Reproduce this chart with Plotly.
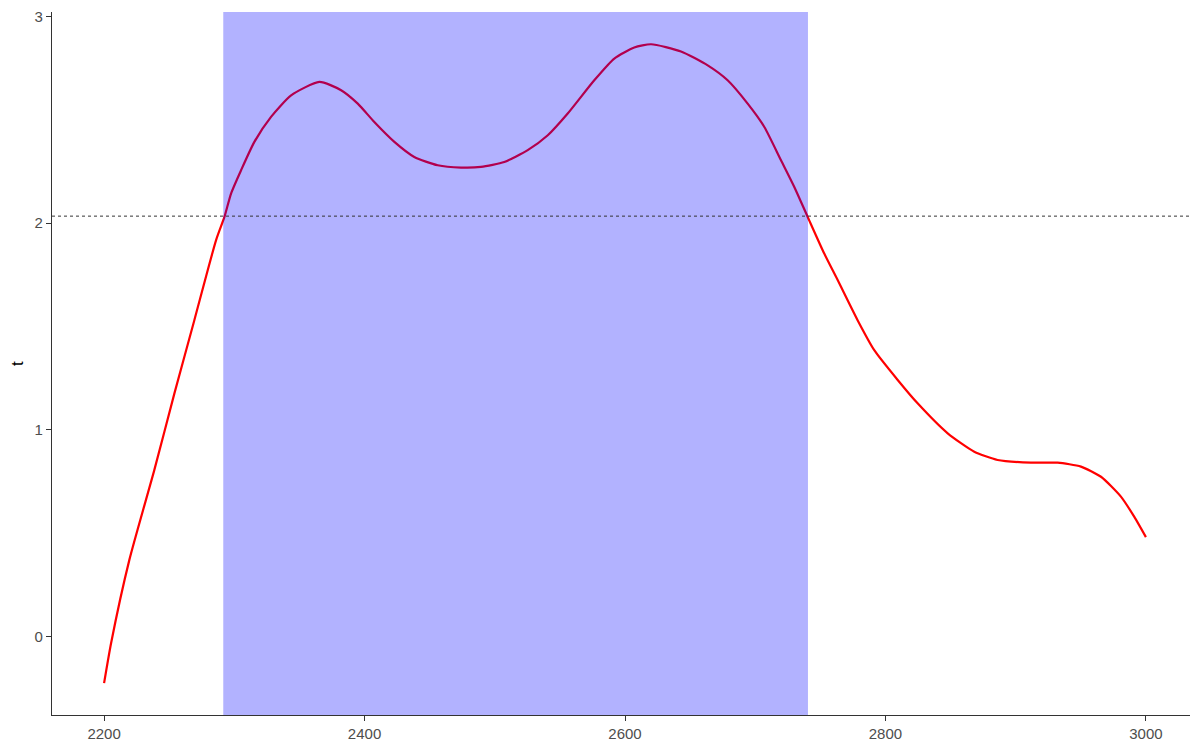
import plotly.graph_objects as go

# Data
x_vals = [2200, 2205.4, 2219.4, 2238.6, 2254.0, 2269.3, 2286.0, 2292.4, 2297.5,
          2305.2, 2315.4, 2328.2, 2343.6, 2365.3, 2382.0, 2394.8, 2407.5, 2422.9, 2438.2,
          2456.2, 2474.1, 2489.4, 2507.3, 2525.3, 2540.7, 2556.0, 2576.4, 2591.8, 2607.1,
          2620.0, 2643.0, 2663.5, 2678.8, 2694.2, 2707.0, 2719.8, 2730.0, 2740.3, 2753.0,
          2763.3, 2778.6, 2791.4, 2809.4, 2824.7, 2847.8, 2868.2, 2886.1, 2911.7, 2932.2,
          2950.1, 2965.5, 2980.8, 2991.0, 3000]
t_vals = [-0.224, -0.03, 0.372, 0.807, 1.177, 1.531, 1.918, 2.03, 2.143,
          2.256, 2.393, 2.514, 2.618, 2.683, 2.643, 2.578, 2.489, 2.393, 2.32,
          2.28, 2.269, 2.272, 2.296, 2.353, 2.425, 2.530, 2.691, 2.796, 2.849,
          2.865, 2.83, 2.763, 2.691, 2.578, 2.465, 2.304, 2.175, 2.03, 1.853,
          1.725, 1.531, 1.386, 1.242, 1.129, 0.984, 0.895, 0.855, 0.842, 0.842,
          0.823, 0.774, 0.678, 0.581, 0.482]
region = [2291.5, 2740.5]
threshold = 2.034
x_ticks = [2200, 2400, 2600, 2800, 3000]
y_ticks = [0, 1, 2, 3]

fig = go.Figure()
fig.add_trace(go.Scatter(x=x_vals, y=t_vals, mode="lines",
                         line=dict(color="#FF0000", width=2.2, shape="spline", smoothing=0.6),
                         showlegend=False, hoverinfo="skip"))

fig.add_shape(type="rect", xref="x", yref="paper", x0=region[0], x1=region[1], y0=0, y1=1,
              fillcolor="rgba(0,0,255,0.3)", line=dict(width=0), layer="above")
fig.add_shape(type="line", xref="paper", yref="y", x0=0, x1=1, y0=threshold, y1=threshold,
              line=dict(color="#333333", width=1, dash="dot"), layer="above")

axis_common = dict(showgrid=False, zeroline=False, showline=True, linecolor="#333333",
                   linewidth=1.1, ticks="outside", ticklen=5, tickwidth=1.1, tickcolor="#333333",
                   automargin=False, ticklabeloverflow="allow",
                   tickfont=dict(family="Liberation Sans, Arial, sans-serif", size=15, color="#4D4D4D"))

fig.update_xaxes(range=[2160, 3040], tickvals=x_ticks, ticktext=[str(v) for v in x_ticks],
                 **axis_common)
fig.update_yaxes(range=[-0.378, 3.021], tickvals=y_ticks, ticktext=[str(v) for v in y_ticks],
                 title=dict(text="t", font=dict(family="Liberation Sans, Arial, sans-serif",
                                                size=17, color="#000000"), standoff=14),
                 **axis_common)

# the page body adds an 8px offset, so the figure is sized to fit the 1198x744 window
fig.update_layout(width=1190, height=736, plot_bgcolor="white", paper_bgcolor="white",
                  margin=dict(l=44, r=0, t=4, b=29), showlegend=False)

fig.write_html("out.html")
